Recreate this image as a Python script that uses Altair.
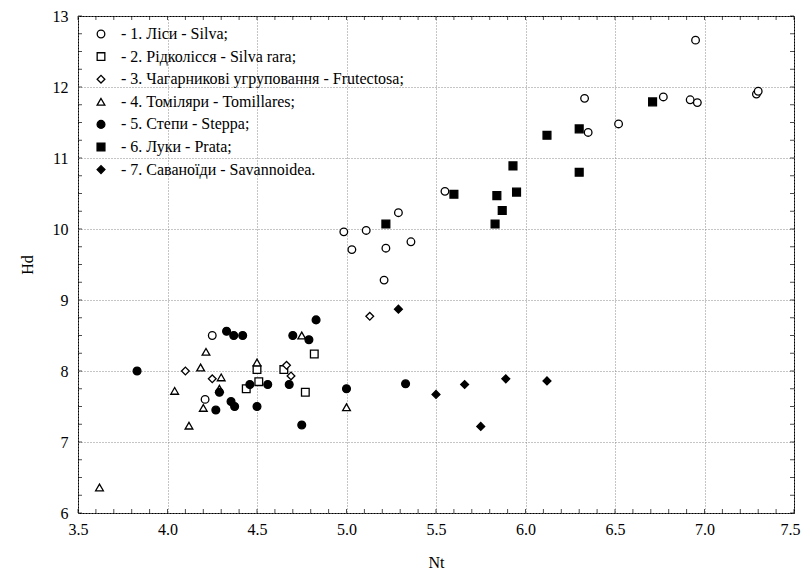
import altair as alt
import pandas as pd

# ---- data ----
categories = [
    "- 1. Ліси - Silva;",
    "- 2. Рідколісся - Silva rara;",
    "- 3. Чагарникові угруповання - Frutectosa;",
    "- 4. Томіляри - Tomillares;",
    "- 5. Степи - Steppa;",
    "- 6. Луки - Prata;",
    "- 7. Саваноїди - Savannoidea.",
]
shapes = ["circle", "square", "diamond", "triangle-up", "circle", "square", "diamond"]
fills = ["white", "white", "white", "white", "black", "black", "black"]
sizes = [58, 62, 105, 80, 62, 70, 105]

silva_nt = [4.25, 4.21, 4.985, 5.03, 5.11, 5.22, 5.29, 5.36, 5.21, 5.55, 6.33, 6.35, 6.52, 6.77, 6.92, 6.96, 6.95, 7.29, 7.30]
silva_hd = [8.50, 7.60, 9.96, 9.71, 9.98, 9.73, 10.23, 9.82, 9.28, 10.53, 11.84, 11.36, 11.48, 11.86, 11.82, 11.78, 12.66, 11.90, 11.94]

rara_nt = [4.50, 4.51, 4.44, 4.65, 4.77, 4.82]
rara_hd = [8.02, 7.85, 7.75, 8.02, 7.70, 8.24]

frut_nt = [4.10, 4.25, 4.665, 4.69, 5.13]
frut_hd = [8.00, 7.89, 8.08, 7.93, 8.77]

tom_nt = [3.62, 4.04, 4.12, 4.185, 4.215, 4.20, 4.30, 4.29, 4.50, 4.75, 5.00]
tom_hd = [6.36, 7.72, 7.23, 8.05, 8.27, 7.48, 7.91, 7.75, 8.12, 8.50, 7.49]

step_nt = [3.83, 4.33, 4.37, 4.42, 4.29, 4.355, 4.375, 4.27, 4.46, 4.56, 4.50, 4.68, 4.70, 4.79, 4.83, 4.75, 5.00, 5.33]
step_hd = [8.00, 8.56, 8.50, 8.50, 7.70, 7.57, 7.50, 7.45, 7.81, 7.81, 7.50, 7.81, 8.50, 8.44, 8.72, 7.24, 7.75, 7.82]

prata_nt = [5.22, 5.60, 5.84, 5.95, 5.87, 5.83, 5.93, 6.12, 6.30, 6.30, 6.71]
prata_hd = [10.07, 10.49, 10.47, 10.52, 10.26, 10.07, 10.89, 11.32, 11.41, 10.80, 11.79]

sav_nt = [5.29, 5.50, 5.66, 5.89, 6.12, 5.75]
sav_hd = [8.87, 7.67, 7.81, 7.89, 7.86, 7.22]

x_labels = [3.5, 4.0, 4.5, 5.0, 5.5, 6.0, 6.5, 7.0, 7.5]
y_labels = [6, 7, 8, 9, 10, 11, 12, 13]
x_minor = [round(3.5 + 0.1 * i, 2) for i in range(41)]
y_minor = [6 + 0.25 * i for i in range(29)]

groups = [
    (silva_nt, silva_hd), (rara_nt, rara_hd), (frut_nt, frut_hd), (tom_nt, tom_hd),
    (step_nt, step_hd), (prata_nt, prata_hd), (sav_nt, sav_hd),
]
rows = []
for cat, (nt, hd) in zip(categories, groups):
    for a, b in zip(nt, hd):
        rows.append({"Nt": a, "Hd": b, "cat": cat})
df = pd.DataFrame(rows)

FONT = "Liberation Serif, 'Times New Roman', serif"
W, H = 716, 497
xdom = [3.5, 7.5]
ydom = [6, 13]

xscale = alt.Scale(domain=xdom, nice=False, zero=False)
yscale = alt.Scale(domain=ydom, nice=False, zero=False)

common_axis = dict(labelFont=FONT, labelFontSize=16, labelColor="black",
                   ticks=False, tickSize=0, domain=False, grid=True, gridDash=[1, 2], gridColor="#8a8a8a",
                   labelFlush=False, titleFont=FONT, titleFontSize=16,
                   titleFontWeight="normal", titleColor="black", titlePadding=17)
xaxis = alt.Axis(values=x_labels, format=".1f", labelPadding=8,
                 labelOffset={"condition": {"test": "datum.value >= 7.5", "value": -4}, "value": 0},
                 **common_axis)
yaxis = alt.Axis(values=y_labels, format="d", labelPadding=10, **common_axis)

legend = alt.Legend(
    orient="none", legendX=15, legendY=10, title=None,
    labelFont=FONT, labelFontSize=16, labelColor="black", labelLimit=600,
    labelOffset=12, symbolStrokeWidth=1.3,
    rowPadding=6.6, padding=0,
)

points = alt.Chart(df).mark_point(filled=True, strokeWidth=1.3, opacity=1).encode(
    x=alt.X("Nt:Q", scale=xscale, title="Nt", axis=xaxis),
    y=alt.Y("Hd:Q", scale=yscale, title="Hd", axis=yaxis),
    shape=alt.Shape("cat:N", scale=alt.Scale(domain=categories, range=shapes), legend=legend),
    fill=alt.Fill("cat:N", scale=alt.Scale(domain=categories, range=fills), legend=legend),
    stroke=alt.Stroke("cat:N", scale=alt.Scale(domain=categories, range=["black"] * 7), legend=legend),
    size=alt.Size("cat:N", scale=alt.Scale(domain=categories, range=sizes), legend=legend),
)

xt = pd.DataFrame({"v": x_minor})
yt = pd.DataFrame({"v": y_minor})
tick_style = dict(color="black", thickness=1, size=4)

bottom_ticks = alt.Chart(xt).mark_tick(orient="vertical", **tick_style).encode(
    x=alt.X("v:Q", scale=xscale, title="Nt", axis=xaxis), y=alt.value(H - 2))
top_ticks = alt.Chart(xt).mark_tick(orient="vertical", **tick_style).encode(
    x=alt.X("v:Q", scale=xscale, title="Nt", axis=xaxis), y=alt.value(2))
left_ticks = alt.Chart(yt).mark_tick(orient="horizontal", **tick_style).encode(
    y=alt.Y("v:Q", scale=yscale, title="Hd", axis=yaxis), x=alt.value(2))
right_ticks = alt.Chart(yt).mark_tick(orient="horizontal", **tick_style).encode(
    y=alt.Y("v:Q", scale=yscale, title="Hd", axis=yaxis), x=alt.value(W - 2))

chart = alt.layer(points, bottom_ticks, top_ticks, left_ticks, right_ticks).properties(
    width=W, height=H,
    autosize=alt.AutoSizeParams(type="none"),
    padding={"left": 70, "top": 8, "right": 7, "bottom": 61},
    background="white",
).configure_view(stroke="black", strokeWidth=1)

chart.save("out.html", embed_options={"renderer": "svg", "actions": False})
